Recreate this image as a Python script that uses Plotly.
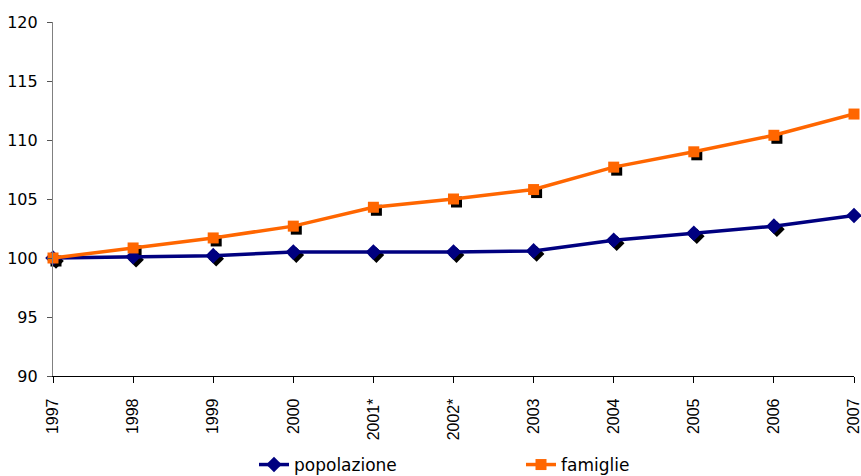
import plotly.graph_objects as go

years = ["1997", "1998", "1999", "2000", "2001*", "2002*", "2003", "2004", "2005", "2006", "2007"]
popolazione = [100.0, 100.1, 100.2, 100.5, 100.5, 100.5, 100.6, 101.5, 102.1, 102.7, 103.6]
famiglie = [100.0, 100.85, 101.7, 102.7, 104.3, 105.0, 105.8, 107.7, 109.0, 110.4, 112.2]
y_ticks = [90, 95, 100, 105, 110, 115, 120]

W, H = 861, 476
ML, MR, MT, MB = 53, 7, 22, 100
x_idx = list(range(len(years)))
px_per_x = (W - ML - MR) / (len(years) - 1)
px_per_y = (H - MT - MB) / (y_ticks[-1] - y_ticks[0])
sh = 3  # shadow offset in pixels
dx = sh / px_per_x
dy = sh / px_per_y

BLUE = "#000080"
ORANGE = "#FF6600"

fig = go.Figure()

# shadow markers
fig.add_trace(go.Scatter(x=[i + dx for i in x_idx], y=[v - dy for v in popolazione],
                         mode="markers", marker=dict(symbol="diamond", size=12, color="black"),
                         showlegend=False, hoverinfo="skip", cliponaxis=False))
fig.add_trace(go.Scatter(x=[i + dx for i in x_idx], y=[v - dy for v in famiglie],
                         mode="markers", marker=dict(symbol="square", size=11, color="black"),
                         showlegend=False, hoverinfo="skip", cliponaxis=False))

fig.add_trace(go.Scatter(x=x_idx, y=popolazione, name="popolazione", mode="lines+markers",
                         line=dict(color=BLUE, width=3.5),
                         marker=dict(symbol="diamond", size=12, color=BLUE),
                         cliponaxis=False))
fig.add_trace(go.Scatter(x=x_idx, y=famiglie, name="famiglie", mode="lines+markers",
                         line=dict(color=ORANGE, width=3.5),
                         marker=dict(symbol="square", size=11, color=ORANGE),
                         cliponaxis=False))

fig.update_layout(
    width=W, height=H,
    margin=dict(l=ML, r=MR, t=MT, b=MB, pad=0, autoexpand=False),
    paper_bgcolor="white", plot_bgcolor="white",
    showlegend=True,
    legend=dict(orientation="h", x=(254 - ML) / (W - ML - MR), xanchor="left",
                y=(H - MB - 465) / (H - MT - MB), yanchor="middle",
                font=dict(family="DejaVu Sans", size=17, color="black"),
                entrywidth=222, entrywidthmode="pixels",
                bgcolor="rgba(0,0,0,0)"),
    xaxis=dict(range=[0, len(years) - 1], tickmode="array", tickvals=x_idx, ticktext=years,
               tickangle=-90, ticks="outside", ticklen=6, tickcolor="black", automargin=False,
               ticklabeloverflow="allow", ticklabelstandoff=9,
               showline=True, linecolor="black", linewidth=1.2, showgrid=False, zeroline=False,
               tickfont=dict(family="Liberation Sans", size=16, color="black")),
    yaxis=dict(range=[y_ticks[0], y_ticks[-1]], tickmode="array", tickvals=y_ticks,
               ticks="outside", ticklen=5, tickcolor="#555555", automargin=False,
               ticklabeloverflow="allow", ticklabelstandoff=6,
               showline=True, linecolor="#808080", linewidth=1.2, showgrid=False, zeroline=False,
               tickfont=dict(family="DejaVu Sans", size=16, color="black")),
)

fig.write_html("out.html")
